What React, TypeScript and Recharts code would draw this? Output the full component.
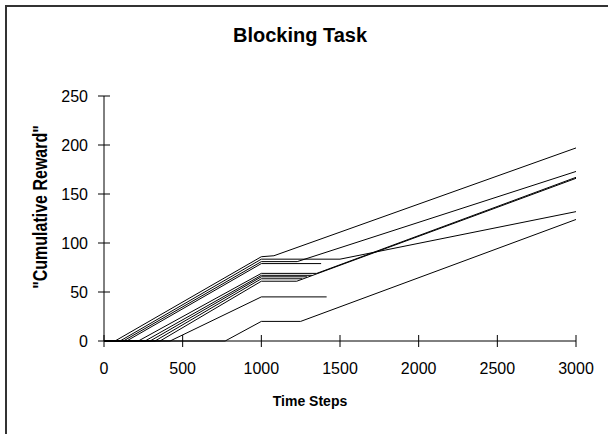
import { LineChart, Line, XAxis, YAxis } from 'recharts'

type Pt = { step: number; reward: number }

// each run: cumulative reward at the step where its slope changes
const runTop: Pt[] = [
  { step: 0, reward: 0 }, { step: 70, reward: 0 }, { step: 1000, reward: 86 },
  { step: 1080, reward: 87 }, { step: 3000, reward: 197 }
]
const runB: Pt[] = [
  { step: 0, reward: 0 }, { step: 123, reward: 0 }, { step: 1000, reward: 81 },
  { step: 1228, reward: 81 }, { step: 3000, reward: 173 }
]
const runC: Pt[] = [
  { step: 0, reward: 0 }, { step: 102, reward: 0 }, { step: 1000, reward: 83.5 },
  { step: 1500, reward: 83.5 }, { step: 3000, reward: 132 }
]
const runD: Pt[] = [
  { step: 0, reward: 0 }, { step: 144, reward: 0 }, { step: 1000, reward: 79 },
  { step: 1380, reward: 79 }
]
const runE: Pt[] = [
  { step: 0, reward: 0 }, { step: 218, reward: 0 }, { step: 1000, reward: 69 },
  { step: 1352, reward: 69 }, { step: 3000, reward: 167 }
]
const runF: Pt[] = [
  { step: 0, reward: 0 }, { step: 261, reward: 0 }, { step: 1000, reward: 67 },
  { step: 1321, reward: 67 }
]
const runG: Pt[] = [
  { step: 0, reward: 0 }, { step: 293, reward: 0 }, { step: 1000, reward: 65.5 },
  { step: 1290, reward: 65.5 }
]
const runH: Pt[] = [
  { step: 0, reward: 0 }, { step: 324, reward: 0 }, { step: 1000, reward: 63.5 },
  { step: 1260, reward: 63.5 }
]
const runI: Pt[] = [
  { step: 0, reward: 0 }, { step: 356, reward: 0 }, { step: 1000, reward: 61 },
  { step: 1225, reward: 61 }, { step: 3000, reward: 166 }
]
const runJ: Pt[] = [
  { step: 0, reward: 0 }, { step: 420, reward: 0 }, { step: 1000, reward: 45 },
  { step: 1415, reward: 45 }
]
const runK: Pt[] = [
  { step: 0, reward: 0 }, { step: 770, reward: 0 }, { step: 1000, reward: 20 },
  { step: 1250, reward: 20 }, { step: 3000, reward: 124 }
]

const runs = [runTop, runB, runC, runD, runE, runF, runG, runH, runI, runJ, runK]

const xTicks = [0, 500, 1000, 1500, 2000, 2500, 3000]
const yTicks = [0, 50, 100, 150, 200, 250]

const font = 'Arial, "Liberation Sans", sans-serif'

// ticks cross the axis, so draw them ourselves
const YTick = ({ x, y, payload }: any) => (
  <g>
    <line x1={x - 6} x2={x + 6} y1={y} y2={y} stroke="#000" />
    <text x={x - 16} y={y} textAnchor="end" dominantBaseline="central" fontSize={16} fontFamily={font} fill="#000">
      {payload.value}
    </text>
  </g>
)

const XTick = ({ x, y, payload }: any) => (
  <g>
    <line x1={x} x2={x} y1={y - 6} y2={y + 6} stroke="#000" />
    <text x={x} y={y + 27} textAnchor="middle" dominantBaseline="central" fontSize={16} fontFamily={font} fill="#000">
      {payload.value}
    </text>
  </g>
)

export default function App() {
  return (
    <div style={{ position: 'absolute', left: 0, top: 0, width: 608, height: 434, background: '#fff', overflow: 'hidden', fontFamily: font }}>
      {/* frame, cut off at right and bottom */}
      <div style={{ position: 'absolute', left: 5, top: 5, width: 700, height: 500, borderLeft: '2px solid #333', borderTop: '2px solid #333' }} />

      <div style={{ position: 'absolute', left: 300, top: 35, transform: 'translate(-50%, -50%)', fontSize: 20, fontWeight: 'bold', whiteSpace: 'nowrap' }}>
        Blocking Task
      </div>

      <div style={{ position: 'absolute', left: 40, top: 207, transform: 'translate(-50%, -50%) rotate(-90deg) scaleX(0.8)', fontSize: 20, fontWeight: 'bold', whiteSpace: 'nowrap' }}>
        "Cumulative Reward"
      </div>

      <div style={{ position: 'absolute', left: 310, top: 401, transform: 'translate(-50%, -50%)', fontSize: 14, fontWeight: 'bold', whiteSpace: 'nowrap' }}>
        Time Steps
      </div>

      <div style={{ position: 'absolute', left: 0, top: 0 }}>
        <LineChart width={608} height={434} margin={{ top: 96, right: 32, left: 44, bottom: 63 }}>
          <XAxis
            dataKey="step"
            type="number"
            domain={[0, 3000]}
            ticks={xTicks}
            tickSize={0}
            tickMargin={0}
            tickLine={false}
            axisLine={{ stroke: '#000' }}
            tick={<XTick />}
            height={30}
            interval={0}
          />
          <YAxis
            type="number"
            domain={[0, 250]}
            ticks={yTicks}
            tickSize={0}
            tickMargin={0}
            tickLine={false}
            axisLine={{ stroke: '#000' }}
            tick={<YTick />}
            width={60}
            interval={0}
          />
          {runs.map((run, i) => (
            <Line
              key={i}
              data={run}
              dataKey="reward"
              type="linear"
              stroke="#000"
              strokeWidth={1}
              dot={false}
              activeDot={false}
              isAnimationActive={false}
            />
          ))}
        </LineChart>
      </div>
    </div>
  )
}
